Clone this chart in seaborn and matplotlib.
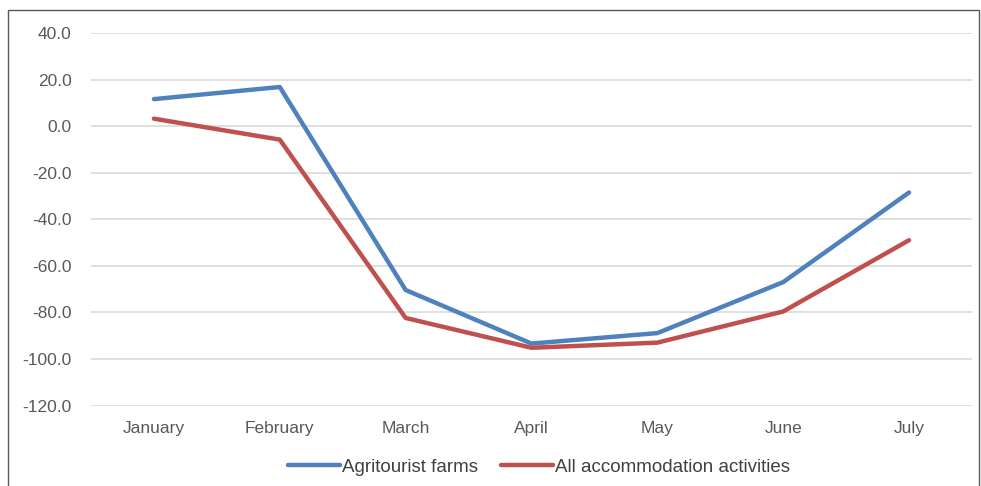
import matplotlib
matplotlib.use("Agg")
import matplotlib.pyplot as plt
from matplotlib.patches import Rectangle
import seaborn as sns
import pandas as pd

months = ["January", "February", "March", "April", "May", "June", "July"]
agritourist = [11.6, 16.8, -70.4, -93.4, -88.9, -67.0, -28.5]
all_accommodation = [3.2, -5.8, -82.4, -95.2, -93.0, -79.6, -49.0]
series_names = ["Agritourist farms", "All accommodation activities"]
y_ticks = [40, 20, 0, -20, -40, -60, -80, -100, -120]

df = pd.DataFrame({
    "month": months * 2,
    "value": agritourist + all_accommodation,
    "series": [series_names[0]] * len(months) + [series_names[1]] * len(months),
})

sns.set_theme(style="white")
plt.rcParams["font.family"] = ["Liberation Sans", "DejaVu Sans"]

fig = plt.figure(figsize=(9.81, 4.86), dpi=100)
ax = fig.add_axes([91 / 981, (486 - 405.5) / 486, (972 - 91) / 981, (405.5 - 33) / 486])

palette = {series_names[0]: "#4F81BD", series_names[1]: "#C0504D"}
sns.lineplot(data=df, x="month", y="value", hue="series", palette=palette,
             linewidth=3.2, sort=False, ax=ax, legend=True)
for line in ax.lines:
    line.set_solid_capstyle("round")
    line.set_solid_joinstyle("round")

ax.set_xlim(-0.5, len(months) - 0.5)
ax.set_ylim(-120, 40)
ax.set_yticks(y_ticks)
ax.set_yticklabels([f"{v:.1f}" for v in y_ticks])
ax.yaxis.grid(True, color="#d9d9d9", linewidth=1.2)
ax.xaxis.grid(False)
ax.set_axisbelow(True)
for s in ax.spines.values():
    s.set_visible(False)
ax.tick_params(axis="both", length=0, labelsize=12.5, labelcolor="#595959")
ax.tick_params(axis="y", pad=14)
ax.tick_params(axis="x", pad=11)
ax.set_xlabel("")
ax.set_ylabel("")

handles, labels = ax.get_legend_handles_labels()
for h in handles:
    h.set_solid_capstyle("round")
leg = ax.legend(handles, labels, loc="center", bbox_to_anchor=(539 / 981, (486 - 467) / 486),
                bbox_transform=fig.transFigure, ncol=2, frameon=False, fontsize=13.5,
                handlelength=2.8, handletextpad=0.1, columnspacing=1.2)
for t in leg.get_texts():
    t.set_color("#404040")

fig.patches.append(Rectangle((8 / 981, -0.01), (979 - 8) / 981, (486 - 10) / 486 + 0.01,
                             transform=fig.transFigure, fill=False,
                             edgecolor="#595959", linewidth=1.0))

fig.savefig("out.png", dpi=100)
